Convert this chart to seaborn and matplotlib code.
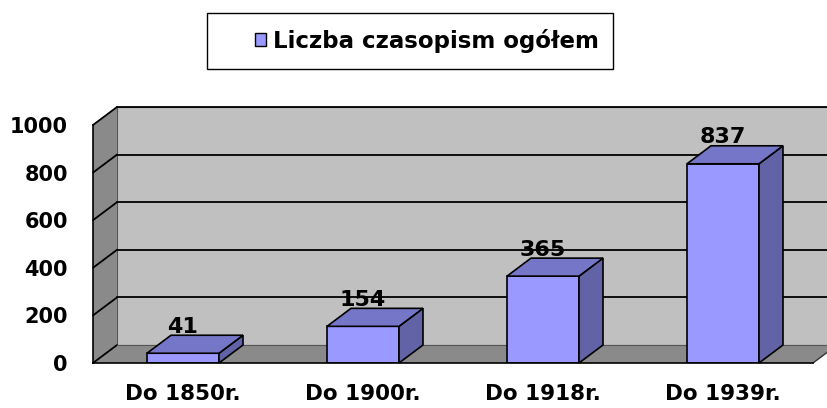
import matplotlib
matplotlib.use("Agg")
import matplotlib.pyplot as plt
import seaborn as sns
import pandas as pd
from matplotlib.patches import Polygon, Rectangle, Patch

# dane
kategorie = ["Do 1850r.", "Do 1900r.", "Do 1918r.", "Do 1939r."]
liczba = [41, 154, 365, 837]
seria = "Liczba czasopism ogółem"

data = pd.DataFrame({"okres": kategorie, "liczba": liczba})

sns.set_style("white")
plt.rcParams["font.family"] = ["DejaVu Sans"]
plt.rcParams["font.weight"] = "bold"
plt.rcParams["text.color"] = "black"
plt.rcParams["xtick.color"] = "black"
plt.rcParams["ytick.color"] = "black"
plt.rcParams["xtick.labelcolor"] = "black"
plt.rcParams["ytick.labelcolor"] = "black"

fig = plt.figure(figsize=(8.28, 4.08), dpi=100)
ax = fig.add_axes([93 / 828, 45 / 408, 720 / 828, 238 / 408])
ax.set_xlim(-0.5, 3.5)
ax.set_ylim(0, 1000)

# głębokość efektu 3D (w jednostkach danych)
dx = 24 / 180
dy = 18 / 238 * 1000
ymax = 1000
x_lo, x_hi = -0.5, 3.5

wall = "#C0C0C0"
floor = "#8A8A8A"
front = "#9999FF"

# tylna ściana
ax.add_patch(Polygon([(x_lo + dx, dy), (x_hi + dx, dy), (x_hi + dx, ymax + dy), (x_lo + dx, ymax + dy)],
                     closed=True, facecolor=wall, edgecolor="#555555", lw=0.8, zorder=0.5, clip_on=False))
# lewa ściana
ax.add_patch(Polygon([(x_lo, 0), (x_lo + dx, dy), (x_lo + dx, ymax + dy), (x_lo, ymax)],
                     closed=True, facecolor=floor, edgecolor="none", zorder=0.6, clip_on=False))
# podłoga
ax.add_patch(Polygon([(x_lo, 0), (x_hi, 0), (x_hi + dx, dy), (x_lo + dx, dy)],
                     closed=True, facecolor=floor, edgecolor="none", zorder=0.6, clip_on=False))

# linie siatki
for v in range(0, 1001, 200):
    ax.plot([x_lo, x_lo + dx], [v, v + dy], color="black", lw=1.3, zorder=1, clip_on=False)
    if v > 0:
        ax.plot([x_lo + dx, x_hi + dx], [v + dy, v + dy], color="black", lw=1.3, zorder=1, clip_on=False)
ax.plot([x_lo + dx, x_hi + dx], [dy, dy], color="#555555", lw=0.8, zorder=1, clip_on=False)
ax.plot([x_hi, x_hi + dx], [0, dy], color="#333333", lw=1.0, zorder=1, clip_on=False)

sns.barplot(data=data, x="okres", y="liczba", color=front, saturation=1, width=0.4,
            edgecolor="black", linewidth=1.2, ax=ax, zorder=5)

for p in list(ax.patches):
    if not isinstance(p, Rectangle) or p.get_height() <= 0 or p.get_width() > 1:
        continue
    x0, w, h = p.get_x(), p.get_width(), p.get_height()
    top = Polygon([(x0, h), (x0 + w, h), (x0 + w + dx, h + dy), (x0 + dx, h + dy)], closed=True,
                  facecolor="#7676C8", edgecolor="black", lw=1.2, zorder=5, clip_on=False)
    side = Polygon([(x0 + w, 0), (x0 + w + dx, dy), (x0 + w + dx, h + dy), (x0 + w, h)], closed=True,
                   facecolor="#6262A6", edgecolor="black", lw=1.2, zorder=5, clip_on=False)
    ax.add_patch(side)
    ax.add_patch(top)

for i, v in enumerate(liczba):
    ax.annotate(str(v), (i, v), xytext=(0, 19), textcoords="offset points", ha="center", va="center",
                fontsize=16, fontweight="bold", color="black", zorder=10, annotation_clip=False)

# osie
for s in ["top", "right"]:
    ax.spines[s].set_visible(False)
for s in ["left", "bottom"]:
    ax.spines[s].set_color("black")
    ax.spines[s].set_linewidth(1.2)
    ax.spines[s].set_zorder(6)

ax.set_yticks(range(0, 1001, 200))
ax.tick_params(axis="y", direction="out", length=6, width=1, pad=12, labelsize=15,
               colors="black", labelcolor="black")
ax.set_xticks(range(len(kategorie)))
ax.set_xticklabels(kategorie, fontsize=15.5, fontweight="bold", color="black")
ax.set_xticks([-0.5, 0.5, 1.5, 2.5, 3.5], minor=True)
ax.tick_params(axis="x", which="major", length=0, pad=15, labelcolor="black")
ax.tick_params(axis="x", which="minor", direction="out", length=5, width=1, color="black")
for t in ax.get_yticklabels():
    t.set_fontweight("bold")
ax.set_xlabel("")
ax.set_ylabel("")

# legenda
ax.add_patch(Rectangle((207 / 828, 1 - 69 / 408), 406 / 828, 56 / 408, transform=fig.transFigure,
                       facecolor="white", edgecolor="black", lw=1.0, zorder=20, clip_on=False))
uchwyt = Patch(facecolor=front, edgecolor="black", lw=1.0)
leg = ax.legend([uchwyt], [seria], loc="center", bbox_to_anchor=(427 / 828, 1 - 41 / 408),
                bbox_transform=fig.transFigure, frameon=False,
                prop={"size": 16.5, "weight": "bold"}, handlelength=0.5, handleheight=0.5,
                handletextpad=0.3)
leg.set_zorder(30)

fig.savefig("out.png", dpi=100)
